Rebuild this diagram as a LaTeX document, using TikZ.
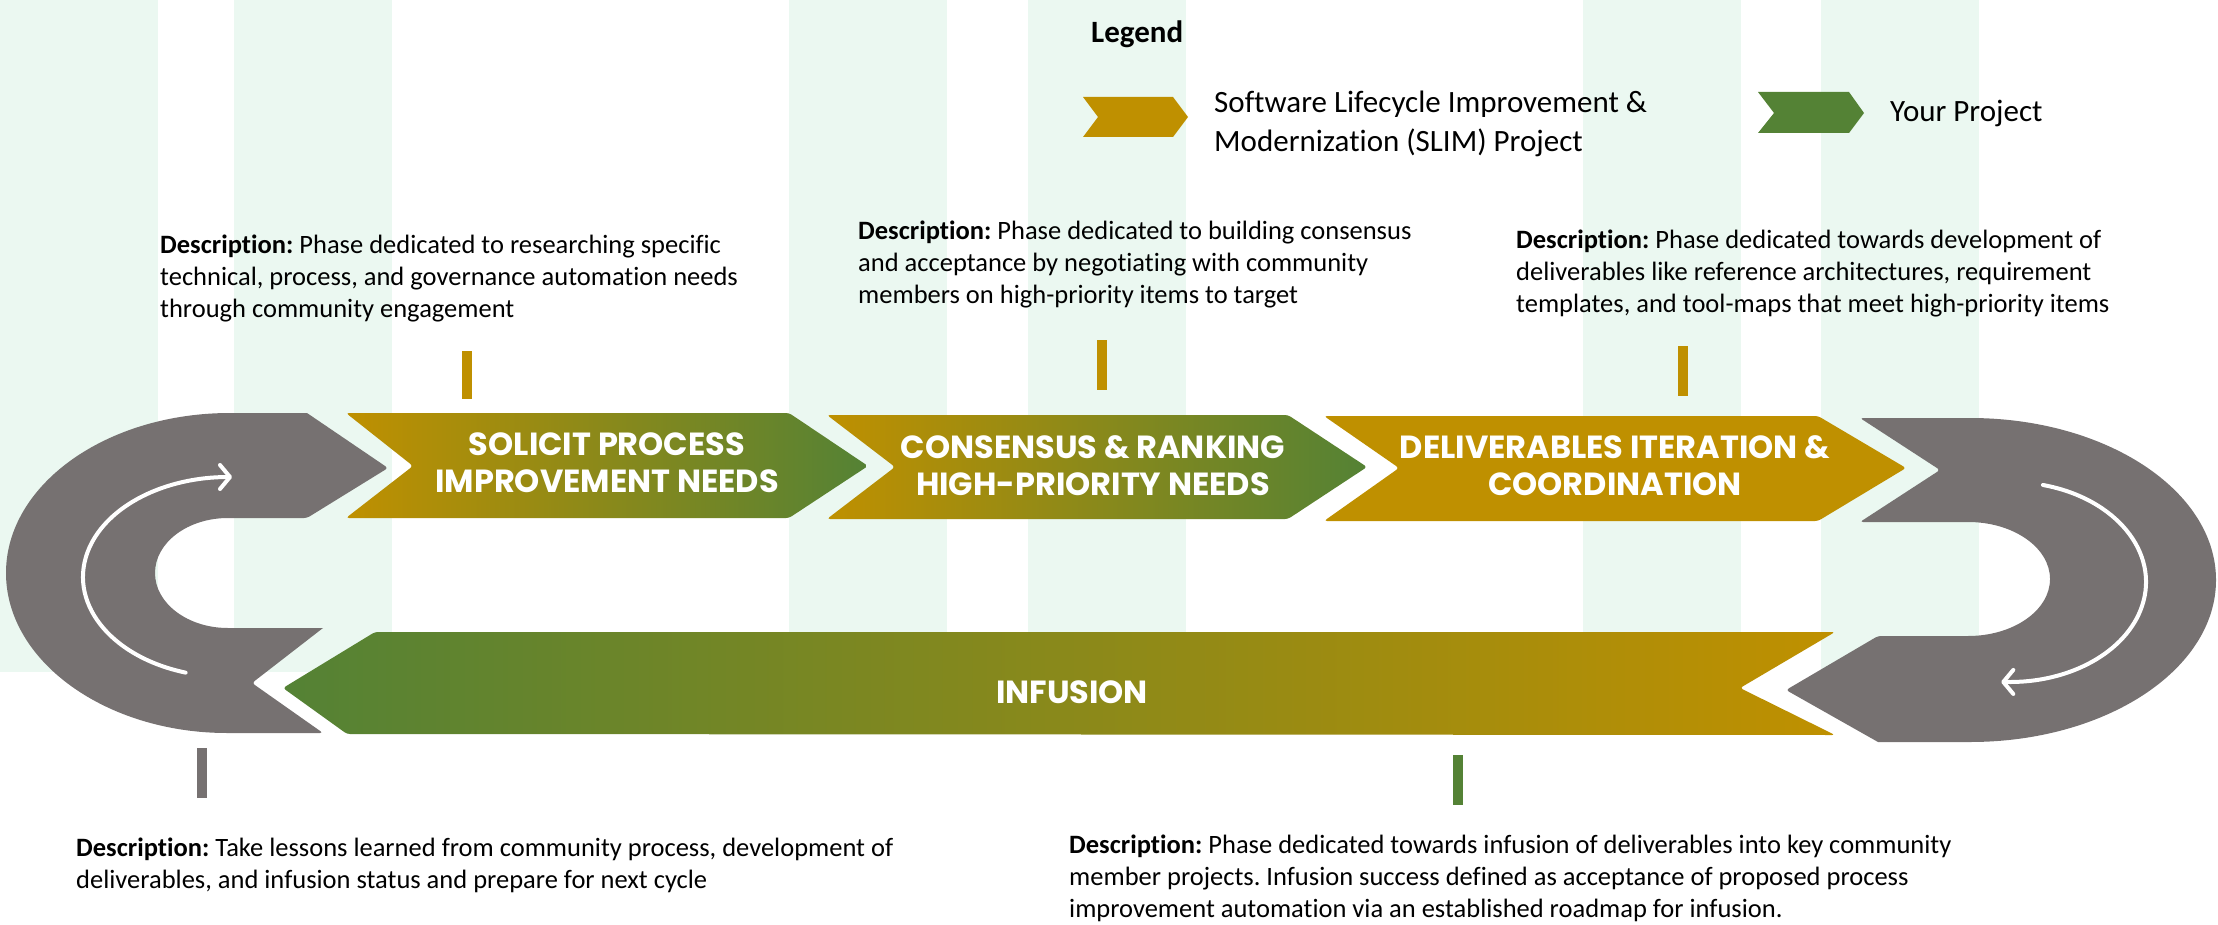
\documentclass[tikz,border=0pt]{standalone}
\usepackage{fontspec}
\setmainfont{Carlito}[Ligatures=NoCommon]
\newfontfamily\phasefont{Poppins}
\usetikzlibrary{arrows.meta}
\definecolor{slimgold}{HTML}{BF9000}
\definecolor{projgreen}{HTML}{548235}
\definecolor{roadgray}{HTML}{767171}
\definecolor{mint}{HTML}{EBF8F1}
\tikzset{
  desc/.style={anchor=north west,align=left,inner sep=0pt,font=\frenchspacing\fontsize{26.5}{32}\selectfont},
  phase/.style={text=white,align=center,inner sep=0pt,font=\phasefont\bfseries\fontsize{32}{37}\selectfont},
  keytext/.style={inner sep=0pt,align=left,font=\fontsize{31}{39}\selectfont},
  road/.style={fill=roadgray},
  turnarrow/.style={white,line width=4,line cap=round,-{Straight Barb[length=10pt,width=24pt,round]}},
}
\begin{document}
\begin{tikzpicture}[x=1pt,y=-1pt]
\useasboundingbox (0,0) rectangle (2218,925);
\foreach \a in {0,234,789,1028,1583,1821}
  \fill[mint] (\a,0) rectangle ++(158,672);

\path[road] (230,413) -- (307,413) [rounded corners=3] -- (388,468) -- (307,518) [sharp corners] -- (228,518)
  arc[start angle=270,end angle=90,x radius=73,y radius=55] -- (323,628) [rounded corners=3] -- (252,683) -- (323,733) -- (230,733) [sharp corners]
  arc[start angle=90,end angle=270,x radius=224,y radius=160] -- cycle;
\path[road] (1970,418) arc[start angle=270,end angle=450,x radius=246,y radius=162] -- (1878,742) [rounded corners=3] -- (1786,690) -- (1878,636) [sharp corners] -- (1968,636)
  arc[start angle=90,end angle=-90,x radius=82,y radius=57] [rounded corners=3] -- (1860,522) -- (1940,470) -- (1860,418) [sharp corners] -- cycle;
\draw[turnarrow] (228,577) ++(107:145 and 100) arc[start angle=107,end angle=270,x radius=145,y radius=100] -- ++(4,0);
\draw[turnarrow] (2010,582) ++(-76:136 and 100) arc[start angle=-76,end angle=92,x radius=136,y radius=100] -- ++(-4,0);

\path[left color=slimgold,right color=projgreen,rounded corners=3] (346,413) -- (789,413) -- (868,466) -- (789,518) -- (346,518) -- (413,466) -- cycle;
\path[left color=slimgold,right color=projgreen,rounded corners=3] (827,415) -- (1288,415) -- (1367,467) -- (1288,519) -- (827,519) -- (895,467) -- cycle;
\path[fill=slimgold,rounded corners=3] (1324,416) -- (1818,416) -- (1906,468) -- (1818,521) -- (1324,521) -- (1399,468) -- cycle;
\path[left color=projgreen,right color=slimgold,rounded corners=3] (283,688) -- (375,632) -- (1835,632) -- (1740,688) -- (1835,735) -- (347,734) -- cycle;

\node[phase] (solicit) at (607,463) {SOLICIT PROCESS\\IMPROVEMENT NEEDS};
\node[phase] (consensus) at (1093,466) {CONSENSUS \& RANKING\\HIGH-PRIORITY NEEDS};
\node[phase] (deliverables) at (1615,466) {DELIVERABLES ITERATION \&\\COORDINATION};
\node[phase] (infusion) at (1072,692) {INFUSION};

\fill[slimgold] (462,351) rectangle (472,399);
\fill[slimgold] (1097,340) rectangle (1107,390);
\fill[slimgold] (1678,346) rectangle (1688,396);
\fill[roadgray] (197,748) rectangle (207,798);
\fill[projgreen] (1453,755) rectangle (1463,805);

\node[desc] (solicit-desc) at (160,235) {\textbf{Description:} Phase dedicated to researching specific\\technical, process, and governance automation needs\\through community engagement};
\node[desc] (consensus-desc) at (858,221) {\textbf{Description:} Phase dedicated to building consensus\\and acceptance by negotiating with community\\members on high-priority items to target};
\node[desc] (deliverables-desc) at (1516,230) {\textbf{Description:} Phase dedicated towards development of\\deliverables like reference architectures, requirement\\templates, and tool-maps that meet high-priority items};
\node[desc] (cycle-desc) at (76,838) {\textbf{Description:} Take lessons learned from community process, development of\\deliverables, and infusion status and prepare for next cycle};
\node[desc] (infusion-desc) at (1069,835) {\textbf{Description:} Phase dedicated towards infusion of deliverables into key community\\member projects. Infusion success defined as acceptance of proposed process\\improvement automation via an established roadmap for infusion.};

\node[anchor=base west,inner sep=0pt,font=\bfseries\fontsize{31}{38}\selectfont] (legend) at (1091,43) {Legend};
\path[fill=slimgold] (1083,97) -- (1173,97) -- (1188,117) -- (1173,137) -- (1083,137) -- (1098,117) -- cycle;
\node[keytext,anchor=north west] (slim-key) at (1214,91) {Software Lifecycle Improvement \&\\Modernization (SLIM) Project};
\path[fill=projgreen] (1758,92) -- (1849,92) -- (1864,113) -- (1849,133) -- (1758,133) -- (1774,113) -- cycle;
\node[keytext,anchor=base west] (your-key) at (1890,122) {Your Project};
\end{tikzpicture}
\end{document}
